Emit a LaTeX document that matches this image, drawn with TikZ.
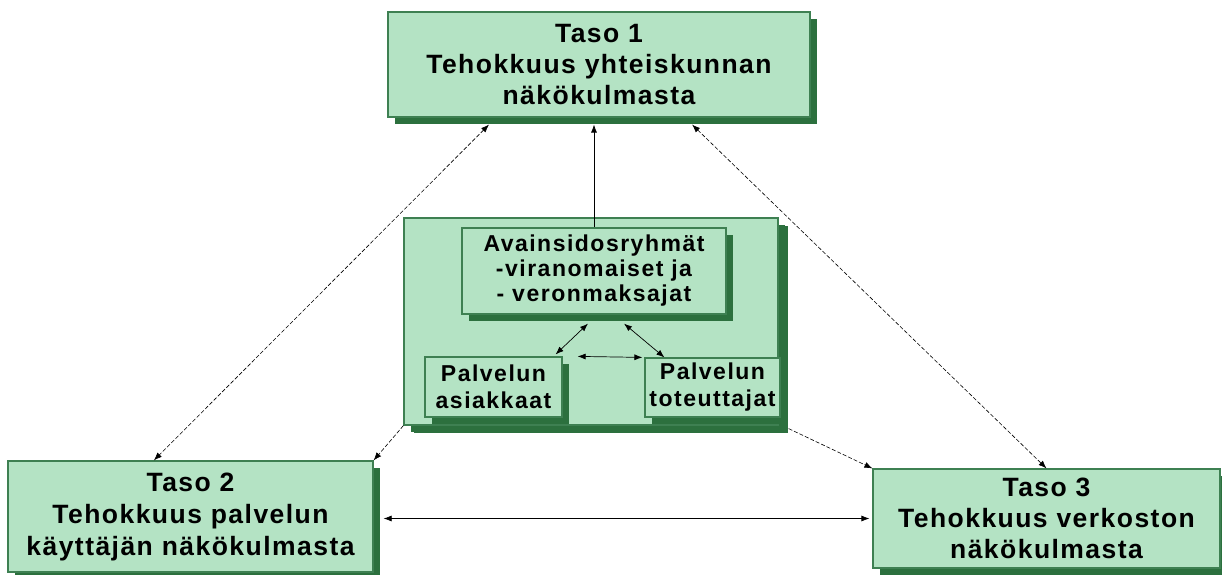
\documentclass[tikz,border=0pt]{standalone}
\usepackage{fontspec}
\setmainfont{Liberation Sans}[LetterSpace=5.5]
\newfontfamily\innerfont{Liberation Sans}[LetterSpace=6.5]
\usetikzlibrary{arrows.meta,calc,shadows}
\definecolor{boxgreen}{RGB}{180,227,196}
\definecolor{edgegreen}{RGB}{62,128,82}
\definecolor{shadegreen}{RGB}{44,112,62}

\tikzset{
	levelbox/.style={draw=edgegreen, line width=1.2pt, fill=boxgreen, inner sep=0pt, align=center,
		font=\fontsize{26.5}{31}\selectfont\bfseries,
		drop shadow={shadow xshift=7pt, shadow yshift=-7pt, fill=shadegreen, opacity=1}},
	groupbox/.style={levelbox, font=\innerfont\fontsize{23}{25}\selectfont\bfseries},
	tip/.tip={Latex[length=8pt,width=6pt]},
	solidlink/.style={line width=0.7pt},
	dashlink/.style={line width=0.6pt, dash pattern=on 4pt off 2pt}
}

\begin{document}
\begin{tikzpicture}[x=1pt, y=1pt]
			%%%%% START %%%%%
			
			\useasboundingbox (0, 0) rectangle (1222, 574);
			
			\node[levelbox, minimum width=422, minimum height=105] (taso1) at (599, 509.5) {Taso 1\\Tehokkuus yhteiskunnan\\näkökulmasta};
			
			\node[levelbox, minimum width=374, minimum height=207, drop shadow={shadow xshift=10pt, shadow yshift=-8pt, fill=shadegreen, opacity=1}] (mid) at (591, 252.5) {};
			\node[groupbox, minimum width=264, minimum height=86] (key) at (594, 303) {Avainsidosryhmät\\-viranomaiset ja\\- veronmaksajat};
			\node[groupbox, minimum width=137, minimum height=60, font=\innerfont\fontsize{23}{27}\selectfont\bfseries] (cust) at (493.5, 187) {Palvelun\\asiakkaat};
			\node[groupbox, minimum width=135, minimum height=59, font=\innerfont\fontsize{23}{27}\selectfont\bfseries] (prov) at (712.5, 186.5) {Palvelun\\toteuttajat};
			
			\node[levelbox, minimum width=365, minimum height=111, font=\fontsize{26.5}{32}\selectfont\bfseries] (taso2) at (190.5, 57.5) {Taso 2\\Tehokkuus palvelun\\käyttäjän näkökulmasta};
			\node[levelbox, minimum width=347, minimum height=99] (taso3) at (1046.5, 55.5) {Taso 3\\Tehokkuus verkoston\\näkökulmasta};
			
			\draw[solidlink, -tip] (key.north) -- ($(key.north |- taso1.south)+(0, -7)$);
			
			\draw[dashlink, tip-tip] ($(taso1.south west)!0.24!(taso1.south east)+(0, -7)$) -- ($(taso2.north west)!0.4!(taso2.north east)$);
			\draw[dashlink, tip-tip] ($(taso1.south west)!0.72!(taso1.south east)+(0, -7)$) -- (taso3.north);
			\draw[dashlink, -tip] (mid.south west) -- (taso2.north east);
			\draw[dashlink, -tip] ($(mid.south east)+(10, -3)$) -- (taso3.north west);
			
			\draw[solidlink, tip-tip] ($(taso2.east)+(10, -2)$) -- ($(taso3.west)+(-3, 0)$);
			
			\draw[solidlink, tip-tip] ($(key.south)+(-6, -9)$) -- ($(cust.north east)+(-7, 2)$);
			\draw[solidlink, tip-tip] ($(key.south)+(30, -9)$) -- ($(prov.north west)+(20, 0)$);
			\draw[solidlink, tip-tip] ($(cust.north east)+(15, 0)$) -- ($(prov.north west)+(-2, 0)$);
			
			%%%%% END %%%%%
		\end{tikzpicture}
\end{document}
